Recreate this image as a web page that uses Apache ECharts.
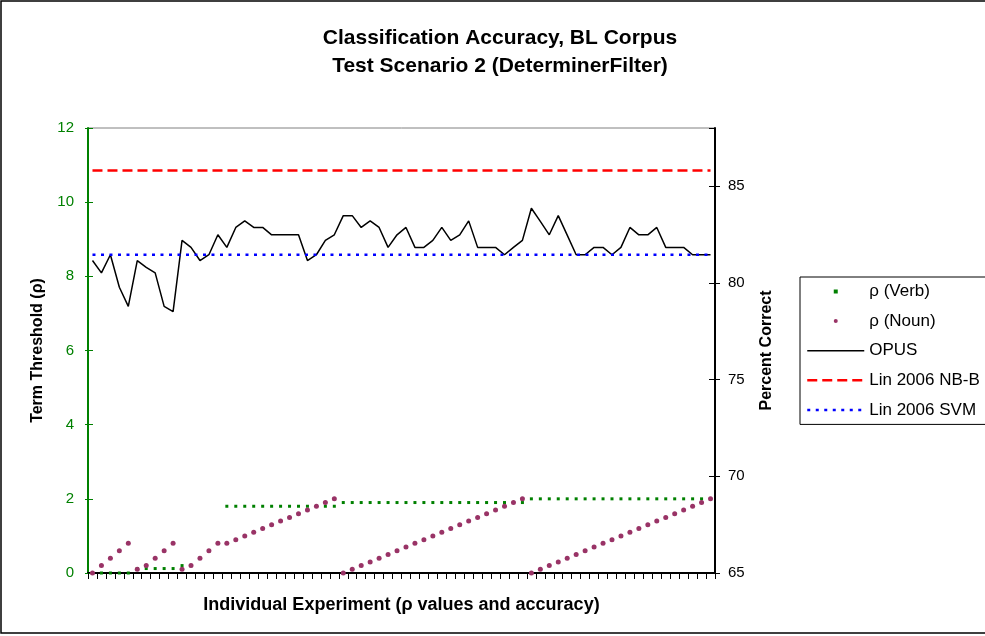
<!DOCTYPE html>
<html>
<head>
<meta charset="utf-8">
<script src="https://cdn.jsdelivr.net/npm/echarts@6/dist/echarts.min.js"></script>
<style>
  html, body { margin: 0; padding: 0; background: #fff; }
  #chart { width: 985px; height: 636px; }
</style>
</head>
<body>
<div id="chart"></div>
<script>
// experiment index on the x axis (labels are not shown)
const experiments = [
  '1', '2', '3', '4', '5', '6', '7', '8', '9', '10',
  '11', '12', '13', '14', '15', '16', '17', '18', '19', '20',
  '21', '22', '23', '24', '25', '26', '27', '28', '29', '30',
  '31', '32', '33', '34', '35', '36', '37', '38', '39', '40',
  '41', '42', '43', '44', '45', '46', '47', '48', '49', '50',
  '51', '52', '53', '54', '55', '56', '57', '58', '59', '60',
  '61', '62', '63', '64', '65', '66', '67', '68', '69', '70'
]

// term thresholds (left axis)
const rhoVerb = [
  0, 0, 0, 0, 0, 0.12, 0.12, 0.12, 0.12, 0.12,
  0.2, 0.2, 0.4, 0.6, 0.8, 1.8, 1.8, 1.8, 1.8, 1.8,
  1.8, 1.8, 1.8, 1.8, 1.8, 1.8, 1.8, 1.8, 1.9, 1.9,
  1.9, 1.9, 1.9, 1.9, 1.9, 1.9, 1.9, 1.9, 1.9, 1.9,
  1.9, 1.9, 1.9, 1.9, 1.9, 1.9, 1.9, 1.9, 1.9, 2.0,
  2.0, 2.0, 2.0, 2.0, 2.0, 2.0, 2.0, 2.0, 2.0, 2.0,
  2.0, 2.0, 2.0, 2.0, 2.0, 2.0, 2.0, 2.0, 2.0, 2.0
]
const rhoNoun = [
  0, 0.2, 0.4, 0.6, 0.8, 0.1, 0.2, 0.4, 0.6, 0.8,
  0.1, 0.2, 0.4, 0.6, 0.8, 0.8, 0.9, 1.0, 1.1, 1.2,
  1.3, 1.4, 1.5, 1.6, 1.7, 1.8, 1.9, 2.0, 0, 0.1,
  0.2, 0.3, 0.4, 0.5, 0.6, 0.7, 0.8, 0.9, 1.0, 1.1,
  1.2, 1.3, 1.4, 1.5, 1.6, 1.7, 1.8, 1.9, 2.0, 0,
  0.1, 0.2, 0.3, 0.4, 0.5, 0.6, 0.7, 0.8, 0.9, 1.0,
  1.1, 1.2, 1.3, 1.4, 1.5, 1.6, 1.7, 1.8, 1.9, 2.0
]

// accuracy in percent (right axis)
const opus = [
  81.15, 80.51, 81.45, 79.77, 78.78, 81.15, 80.8, 80.51, 78.78, 78.51,
  82.19, 81.83, 81.15, 81.45, 82.48, 81.83, 82.86, 83.2, 82.86, 82.86,
  82.48, 82.48, 82.48, 82.48, 81.15, 81.45, 82.19, 82.48, 83.47, 83.47,
  82.86, 83.2, 82.86, 81.83, 82.48, 82.86, 81.83, 81.83, 82.19, 82.86,
  82.19, 82.48, 83.2, 81.83, 81.83, 81.83, 81.45, 81.83, 82.19, 83.85,
  83.17, 82.48, 83.47, 82.46, 81.45, 81.45, 81.83, 81.83, 81.45, 81.83,
  82.86, 82.48, 82.48, 82.86, 81.83, 81.83, 81.83, 81.45, 81.45, 81.45
]
const linNbB = 85.8
const linSvm = 81.45

const leftMin = 0, leftMax = 12, leftStep = 2
const rightMin = 65, rightMax = 88, rightStep = 5

const FONT = 'Liberation Sans, Arial, sans-serif'
const GREEN = '#008000'

const chart = echarts.init(document.getElementById('chart'), null, { renderer: 'canvas' })

function valueAxis(pos, min, max, step, color, extra) {
  return Object.assign({
    type: 'value',
    position: pos,
    min, max, interval: step,
    splitLine: { show: false },
    axisLine: { show: true, lineStyle: { color, width: 2 } },
    axisTick: { show: true, inside: false, length: 4, lineStyle: { color, width: 1 } },
    axisLabel: { show: true, color: pos === 'left' ? GREEN : '#000', fontFamily: FONT, fontSize: 15, margin: 14 }
  }, extra)
}

chart.setOption({
  animation: false,
  backgroundColor: '#fff',
  grid: {
    left: 88, right: 270, top: 128, bottom: 63,
    show: true, borderColor: '#808080', borderWidth: 1, backgroundColor: '#fff',
    outerBoundsMode: 'none'
  },
  graphic: [
    { type: 'rect', shape: { x: 1, y: 1, width: 1200, height: 632 },
      style: { fill: 'none', stroke: '#000', lineWidth: 1.5 }, silent: true },
    { type: 'text', x: 500, y: 38,
      style: { text: 'Classification Accuracy, BL Corpus', align: 'center', verticalAlign: 'middle',
        font: 'bold 21px ' + FONT, fill: '#000' } },
    { type: 'text', x: 500, y: 66,
      style: { text: 'Test Scenario 2 (DeterminerFilter)', align: 'center', verticalAlign: 'middle',
        font: 'bold 21px ' + FONT, fill: '#000' } }
  ],
  legend: {
    orient: 'vertical',
    left: 800, top: 277,
    padding: [6, 8, 6, 6],
    borderColor: '#000', borderWidth: 1,
    itemWidth: 57, itemHeight: 5, itemGap: 12.6,
    selectedMode: false,
    textStyle: { fontFamily: FONT, fontSize: 17, color: '#000' },
    lineStyle: { width: 'inherit' },
    data: [
      { name: 'ρ (Verb)' },
      { name: 'ρ (Noun)' },
      { name: 'OPUS', itemStyle: { opacity: 0 } },
      { name: 'Lin 2006 NB-B', itemStyle: { opacity: 0 } },
      { name: 'Lin 2006 SVM', itemStyle: { opacity: 0 } }
    ]
  },
  xAxis: {
    type: 'category',
    data: experiments,
    boundaryGap: true,
    axisLine: { lineStyle: { color: '#000', width: 2 } },
    axisTick: { show: true, interval: 0, length: 6, lineStyle: { color: '#000', width: 1 } },
    axisLabel: { show: false },
    splitLine: { show: false },
    name: 'Individual Experiment (ρ values and accuracy)',
    nameLocation: 'middle',
    nameGap: 23,
    nameTextStyle: { fontFamily: FONT, fontSize: 18, fontWeight: 'bold', color: '#000' }
  },
  yAxis: [
    valueAxis('left', leftMin, leftMax, leftStep, GREEN, {
      axisTick: { show: true, length: 3, lineStyle: { color: GREEN } },
      name: 'Term Threshold (ρ)', nameLocation: 'middle', nameGap: 42, nameRotate: 90,
      nameTextStyle: { fontFamily: FONT, fontSize: 16, fontWeight: 'bold', color: '#000' }
    }),
    valueAxis('right', rightMin, rightMax, rightStep, '#000', {
      axisTick: { show: true, length: 5, lineStyle: { color: '#000' } },
      axisLabel: { show: true, color: '#000', fontFamily: FONT, fontSize: 15, margin: 13, showMaxLabel: false },
      name: 'Percent Correct', nameLocation: 'middle', nameGap: 44, nameRotate: 90,
      nameTextStyle: { fontFamily: FONT, fontSize: 16, fontWeight: 'bold', color: '#000' }
    }),
    // inner halves of the crossing tick marks
    valueAxis('left', leftMin, leftMax, leftStep, GREEN, {
      axisLine: { show: false }, axisLabel: { show: false },
      axisTick: { show: true, inside: true, length: 5, lineStyle: { color: GREEN } }
    }),
    valueAxis('right', rightMin, rightMax, rightStep, '#000', {
      axisLine: { show: false }, axisLabel: { show: false },
      axisTick: { show: true, inside: true, length: 6, lineStyle: { color: '#000' } }
    })
  ],
  series: [
    {
      name: 'ρ (Verb)', type: 'line', yAxisIndex: 0, data: rhoVerb,
      symbol: 'rect', symbolSize: 3, showSymbol: true, showAllSymbol: true,
      lineStyle: { width: 0 }, itemStyle: { color: GREEN }, z: 3, silent: true
    },
    {
      name: 'ρ (Noun)', type: 'line', yAxisIndex: 0, data: rhoNoun,
      symbol: 'circle', symbolSize: 5, showSymbol: true, showAllSymbol: true,
      lineStyle: { width: 0 }, itemStyle: { color: '#993366' }, z: 4, silent: true
    },
    {
      name: 'OPUS', type: 'line', yAxisIndex: 1, data: opus,
      symbol: 'none', lineStyle: { color: '#000', width: 1.5 }, itemStyle: { color: '#000' }, silent: true
    },
    {
      name: 'Lin 2006 NB-B', type: 'line', yAxisIndex: 1, data: experiments.map(() => linNbB),
      symbol: 'none', lineStyle: { color: '#ff0000', width: 2.5, type: [10, 5] },
      itemStyle: { color: '#ff0000' }, silent: true
    },
    {
      name: 'Lin 2006 SVM', type: 'line', yAxisIndex: 1, data: experiments.map(() => linSvm),
      symbol: 'none', lineStyle: { color: '#0000ff', width: 2.5, type: [3, 5.5] },
      itemStyle: { color: '#0000ff' }, silent: true
    }
  ]
})
</script>
</body>
</html>
